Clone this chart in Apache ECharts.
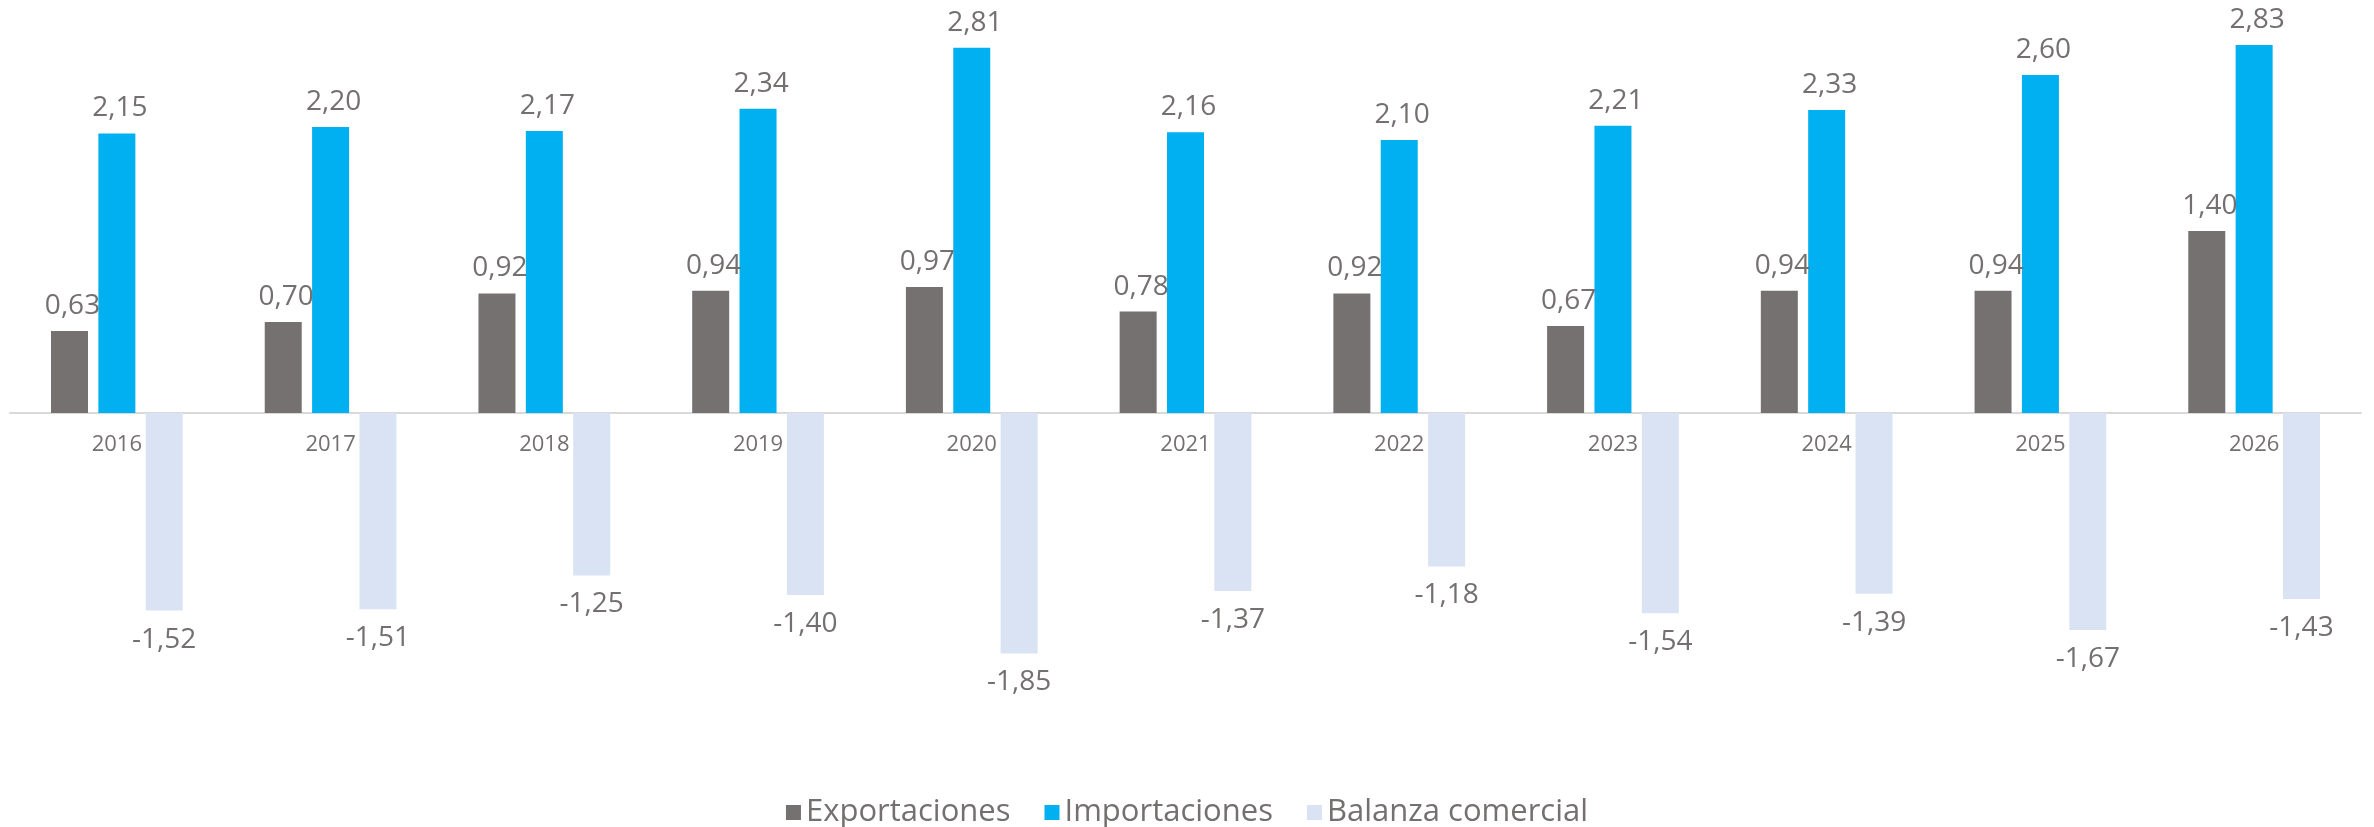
<!DOCTYPE html>
<html>
<head>
<meta charset="utf-8">
<script src="https://cdn.jsdelivr.net/npm/echarts@6/dist/echarts.min.js"></script>
<style>
  html, body { margin: 0; padding: 0; background: #fff; }
  #myChart { width: 2374px; height: 827px; }
</style>
</head>
<body>
<div id="myChart"></div>
<script>
var years = ['2016', '2017', '2018', '2019', '2020', '2021', '2022', '2023', '2024', '2025', '2026']
var exportaciones = [0.63, 0.70, 0.92, 0.94, 0.97, 0.78, 0.92, 0.67, 0.94, 0.94, 1.40]
var importaciones = [2.15, 2.20, 2.17, 2.34, 2.81, 2.16, 2.10, 2.21, 2.33, 2.60, 2.83]
var balanza = [-1.52, -1.51, -1.25, -1.40, -1.85, -1.37, -1.18, -1.54, -1.39, -1.67, -1.43]

var textColor = '#757070'
var fontName = 'Open Sans'

// etiqueta con coma decimal
function fmt (p) {
  return p.value.toFixed(2).replace('.', ',')
}

var myChart = echarts.init(document.getElementById('myChart'))

var labelTop = {
  show: true,
  position: 'top',
  distance: 11,
  offset: [3, 0],
  color: textColor,
  fontFamily: fontName,
  fontSize: 28,
  formatter: fmt
}

var option = {
  backgroundColor: '#ffffff',
  animation: false,
  grid: {
    left: 10,
    right: 13,
    top: 23,
    bottom: 89
  },
  legend: {
    top: 792,
    left: 'center',
    icon: 'rect',
    itemWidth: 15,
    itemHeight: 15,
    itemGap: 34,
    textStyle: {
      color: textColor,
      fontFamily: fontName,
      fontSize: 31
    },
    data: ['Exportaciones', 'Importaciones', 'Balanza comercial']
  },
  xAxis: {
    type: 'category',
    data: years,
    // el eje se desplaza hasta el cero para que los años queden debajo de la linea
    offset: -325,
    axisLine: { onZero: false, lineStyle: { color: '#d9d9d9', width: 2 } },
    axisTick: { show: false },
    axisLabel: {
      color: textColor,
      fontFamily: fontName,
      fontSize: 22,
      margin: 21
    }
  },
  yAxis: {
    type: 'value',
    min: -2.5,
    max: 3,
    interval: 0.5,
    show: false,
    splitLine: { show: false }
  },
  series: [
    {
      name: 'Exportaciones',
      type: 'bar',
      barWidth: 37,
      barGap: '28%',
      itemStyle: { color: '#767171' },
      label: labelTop,
      data: exportaciones
    },
    {
      name: 'Importaciones',
      type: 'bar',
      barWidth: 37,
      barGap: '28%',
      itemStyle: { color: '#00b0f0' },
      label: labelTop,
      data: importaciones
    },
    {
      name: 'Balanza comercial',
      type: 'bar',
      barWidth: 37,
      barGap: '28%',
      itemStyle: { color: '#dae3f3' },
      label: {
        show: true,
        position: 'bottom',
        distance: 15,
        color: textColor,
        fontFamily: fontName,
        fontSize: 28,
        formatter: fmt
      },
      data: balanza
    }
  ]
}

myChart.setOption(option)
</script>
</body>
</html>
